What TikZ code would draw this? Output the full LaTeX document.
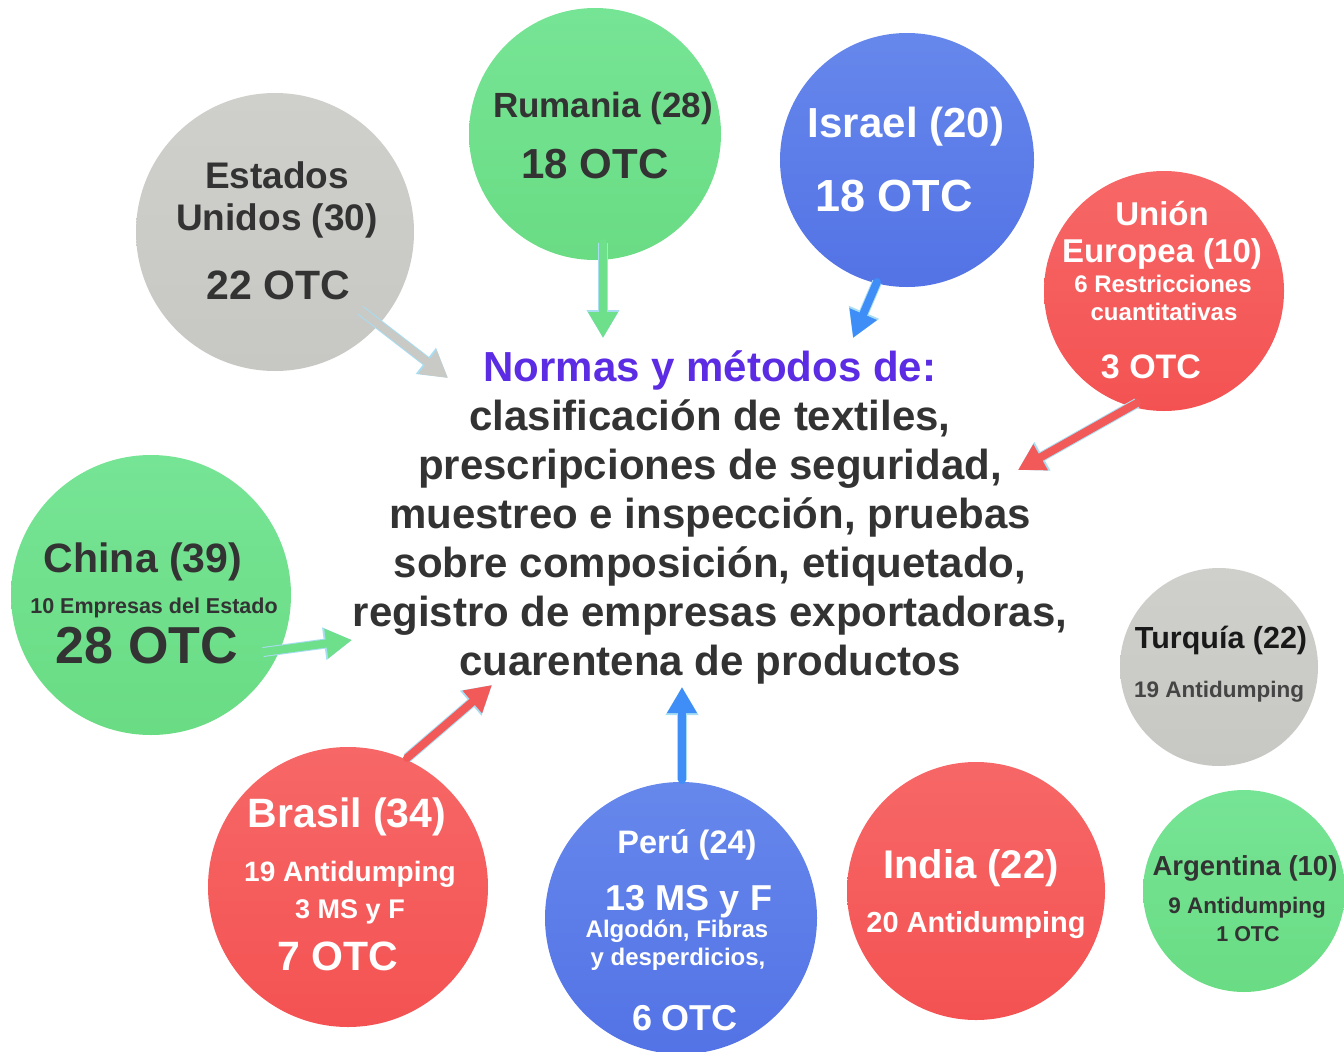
\documentclass[tikz,border=0pt]{standalone}
\usepackage{fontspec}
\setmainfont{Liberation Sans}
\usetikzlibrary{arrows.meta}

% Colours
\definecolor{verdeA}{HTML}{76E495}
\definecolor{verdeB}{HTML}{6ADC84}
\definecolor{grisA}{HTML}{CFCFCB}
\definecolor{grisB}{HTML}{C7C7C3}
\definecolor{azulA}{HTML}{6687EB}
\definecolor{azulB}{HTML}{5373E6}
\definecolor{rojoA}{HTML}{F76767}
\definecolor{rojoB}{HTML}{F45252}
\definecolor{oscuro}{HTML}{333333}
\definecolor{morado}{HTML}{5B2CE3}
\definecolor{halo}{HTML}{A8DDF2}
\definecolor{flechaAzul}{HTML}{3F8EF8}
\definecolor{flechaRoja}{HTML}{F25A5A}
\definecolor{flechaVerde}{HTML}{6EDF8A}
\definecolor{flechaGris}{HTML}{C9C9C5}

\newcommand\fsz[1]{\fontsize{#1}{#1}\selectfont\bfseries}

\begin{document}
\begin{tikzpicture}[x=1pt, y=-1pt,
  bubble/.style={circle, inner sep=0pt, draw=none},
  gris/.style={bubble, top color=grisA, bottom color=grisB},
  verde/.style={bubble, top color=verdeA, bottom color=verdeB},
  azul/.style={bubble, top color=azulA, bottom color=azulB},
  rojo/.style={bubble, top color=rojoA, bottom color=rojoB},
  lbl/.style={anchor=base, inner sep=0pt, text=oscuro},
  blanco/.style={anchor=base, inner sep=0pt, text=white},
  flecha/.style={line width=8pt, line cap=round,
    -{Triangle[length=26pt, width=28pt]},
    preaction={draw=halo, line width=10pt, -{Triangle[length=28pt, width=31pt]}}}]

\useasboundingbox (0,0) rectangle (1344,1052);

% Estados Unidos
\node[gris, minimum size=278] (eeuu) at (275,232) {};
\node[lbl, font=\fsz{37}] (eeuu-1) at (277,188) {Estados};
\node[lbl, font=\fsz{37}] (eeuu-2) at (277,230) {Unidos (30)};
\node[lbl, font=\fsz{41}] (eeuu-3) at (278,299) {22 OTC};

% Rumania
\node[verde, minimum size=252] (rumania) at (595,134) {};
\node[lbl, font=\fsz{35}] (rumania-1) at (603,117) {Rumania (28)};
\node[lbl, font=\fsz{42}] (rumania-2) at (595,178) {18 OTC};

% Israel
\node[azul, minimum size=254] (israel) at (907,160) {};
\node[blanco, font=\fsz{42}] (israel-1) at (906,137) {Israel (20)};
\node[blanco, font=\fsz{45}] (israel-2) at (894,211) {18 OTC};

% Union Europea
\node[rojo, minimum size=240] (ue) at (1164,291) {};
\node[blanco, font=\fsz{33}] (ue-1) at (1162,225) {Unión};
\node[blanco, font=\fsz{33}] (ue-2) at (1162,262) {Europea (10)};
\node[blanco, font=\fsz{24}] (ue-3) at (1163,292) {6 Restricciones};
\node[blanco, font=\fsz{24}] (ue-4) at (1164,320) {cuantitativas};
\node[blanco, font=\fsz{34}] (ue-5) at (1151,378) {3 OTC};

% China
\node[verde, minimum size=280] (china) at (151,595) {};
\node[lbl, font=\fsz{41}] (china-1) at (143,572) {China (39)};
\node[lbl, font=\fsz{21.5}] (china-2) at (154,613) {10 Empresas del Estado};
\node[lbl, font=\fsz{52}] (china-3) at (147,663) {28 OTC};

% Turquia
\node[gris, minimum size=198] (turquia) at (1219,667) {};
\node[lbl, text=black!90, font=\fsz{30.5}] (turquia-1) at (1221,648) {Turquía (22)};
\node[lbl, text=black!73, font=\fsz{22.5}] (turquia-2) at (1219,697) {19 Antidumping};

% Brasil
\node[rojo, minimum size=280] (brasil) at (348,887) {};
\node[blanco, font=\fsz{41}] (brasil-1) at (347,827) {Brasil (34)};
\node[blanco, font=\fsz{28}] (brasil-2) at (350,881) {19 Antidumping};
\node[blanco, font=\fsz{27}] (brasil-3) at (350,918) {3 MS y F};
\node[blanco, font=\fsz{41}] (brasil-4) at (338,970) {7 OTC};

% Peru
\node[azul, minimum size=272] (peru) at (681,918) {};
\node[blanco, font=\fsz{32.5}] (peru-1) at (687,853) {Perú (24)};
\node[blanco, font=\fsz{36}] (peru-2) at (689,910) {13 MS y F};
\node[blanco, font=\fsz{24}] (peru-3) at (677,937) {Algodón, Fibras};
\node[blanco, font=\fsz{24}] (peru-4) at (678,965) {y desperdicios,};
\node[blanco, font=\fsz{36}] (peru-5) at (685,1030) {6 OTC};

% India
\node[rojo, minimum size=258] (india) at (976,891) {};
\node[blanco, font=\fsz{40}] (india-1) at (971,878) {India (22)};
\node[blanco, font=\fsz{29}] (india-2) at (976,932) {20 Antidumping};

% Argentina
\node[verde, minimum size=202] (argentina) at (1244,891) {};
\node[lbl, font=\fsz{27.5}] (argentina-1) at (1245,875) {Argentina (10)};
\node[lbl, font=\fsz{22.5}] (argentina-2) at (1247,913) {9 Antidumping};
\node[lbl, font=\fsz{21.5}] (argentina-3) at (1248,941) {1 OTC};

% Central text (base = last line)
\node[lbl, align=center, font=\fontsize{42}{49}\selectfont\bfseries] (normas) at (710,675)
  {\textcolor{morado}{Normas y métodos de:}\\
   clasificación de textiles,\\
   prescripciones de seguridad,\\
   muestreo e inspección, pruebas\\
   sobre composición, etiquetado,\\
   registro de empresas exportadoras,\\
   cuarentena de productos};

% Arrow ends
\coordinate (eeuu-a) at (360,310);
\coordinate (eeuu-b) at (448,378);
\coordinate (rumania-a) at (603,243);
\coordinate (rumania-b) at (603,338);
\coordinate (israel-a) at (877,282);
\coordinate (israel-b) at (853,338);
\coordinate (ue-a) at (1137,403);
\coordinate (ue-b) at (1018,470);
\coordinate (china-a) at (263,652);
\coordinate (china-b) at (352,640);
\coordinate (brasil-a) at (407,758);
\coordinate (brasil-b) at (492,685);
\coordinate (peru-a) at (682,780);
\coordinate (peru-b) at (682,687);

% Arrows
\draw[flecha, flechaGris] (eeuu-a) -- (eeuu-b);
\draw[flecha, flechaVerde] (rumania-a) -- (rumania-b);
\draw[flecha, flechaAzul] (israel-a) -- (israel-b);
\draw[flecha, flechaRoja] (ue-a) -- (ue-b);
\draw[flecha, flechaVerde] (china-a) -- (china-b);
\draw[flecha, flechaRoja] (brasil-a) -- (brasil-b);
\draw[flecha, flechaAzul] (peru-a) -- (peru-b);

\end{tikzpicture}
\end{document}
